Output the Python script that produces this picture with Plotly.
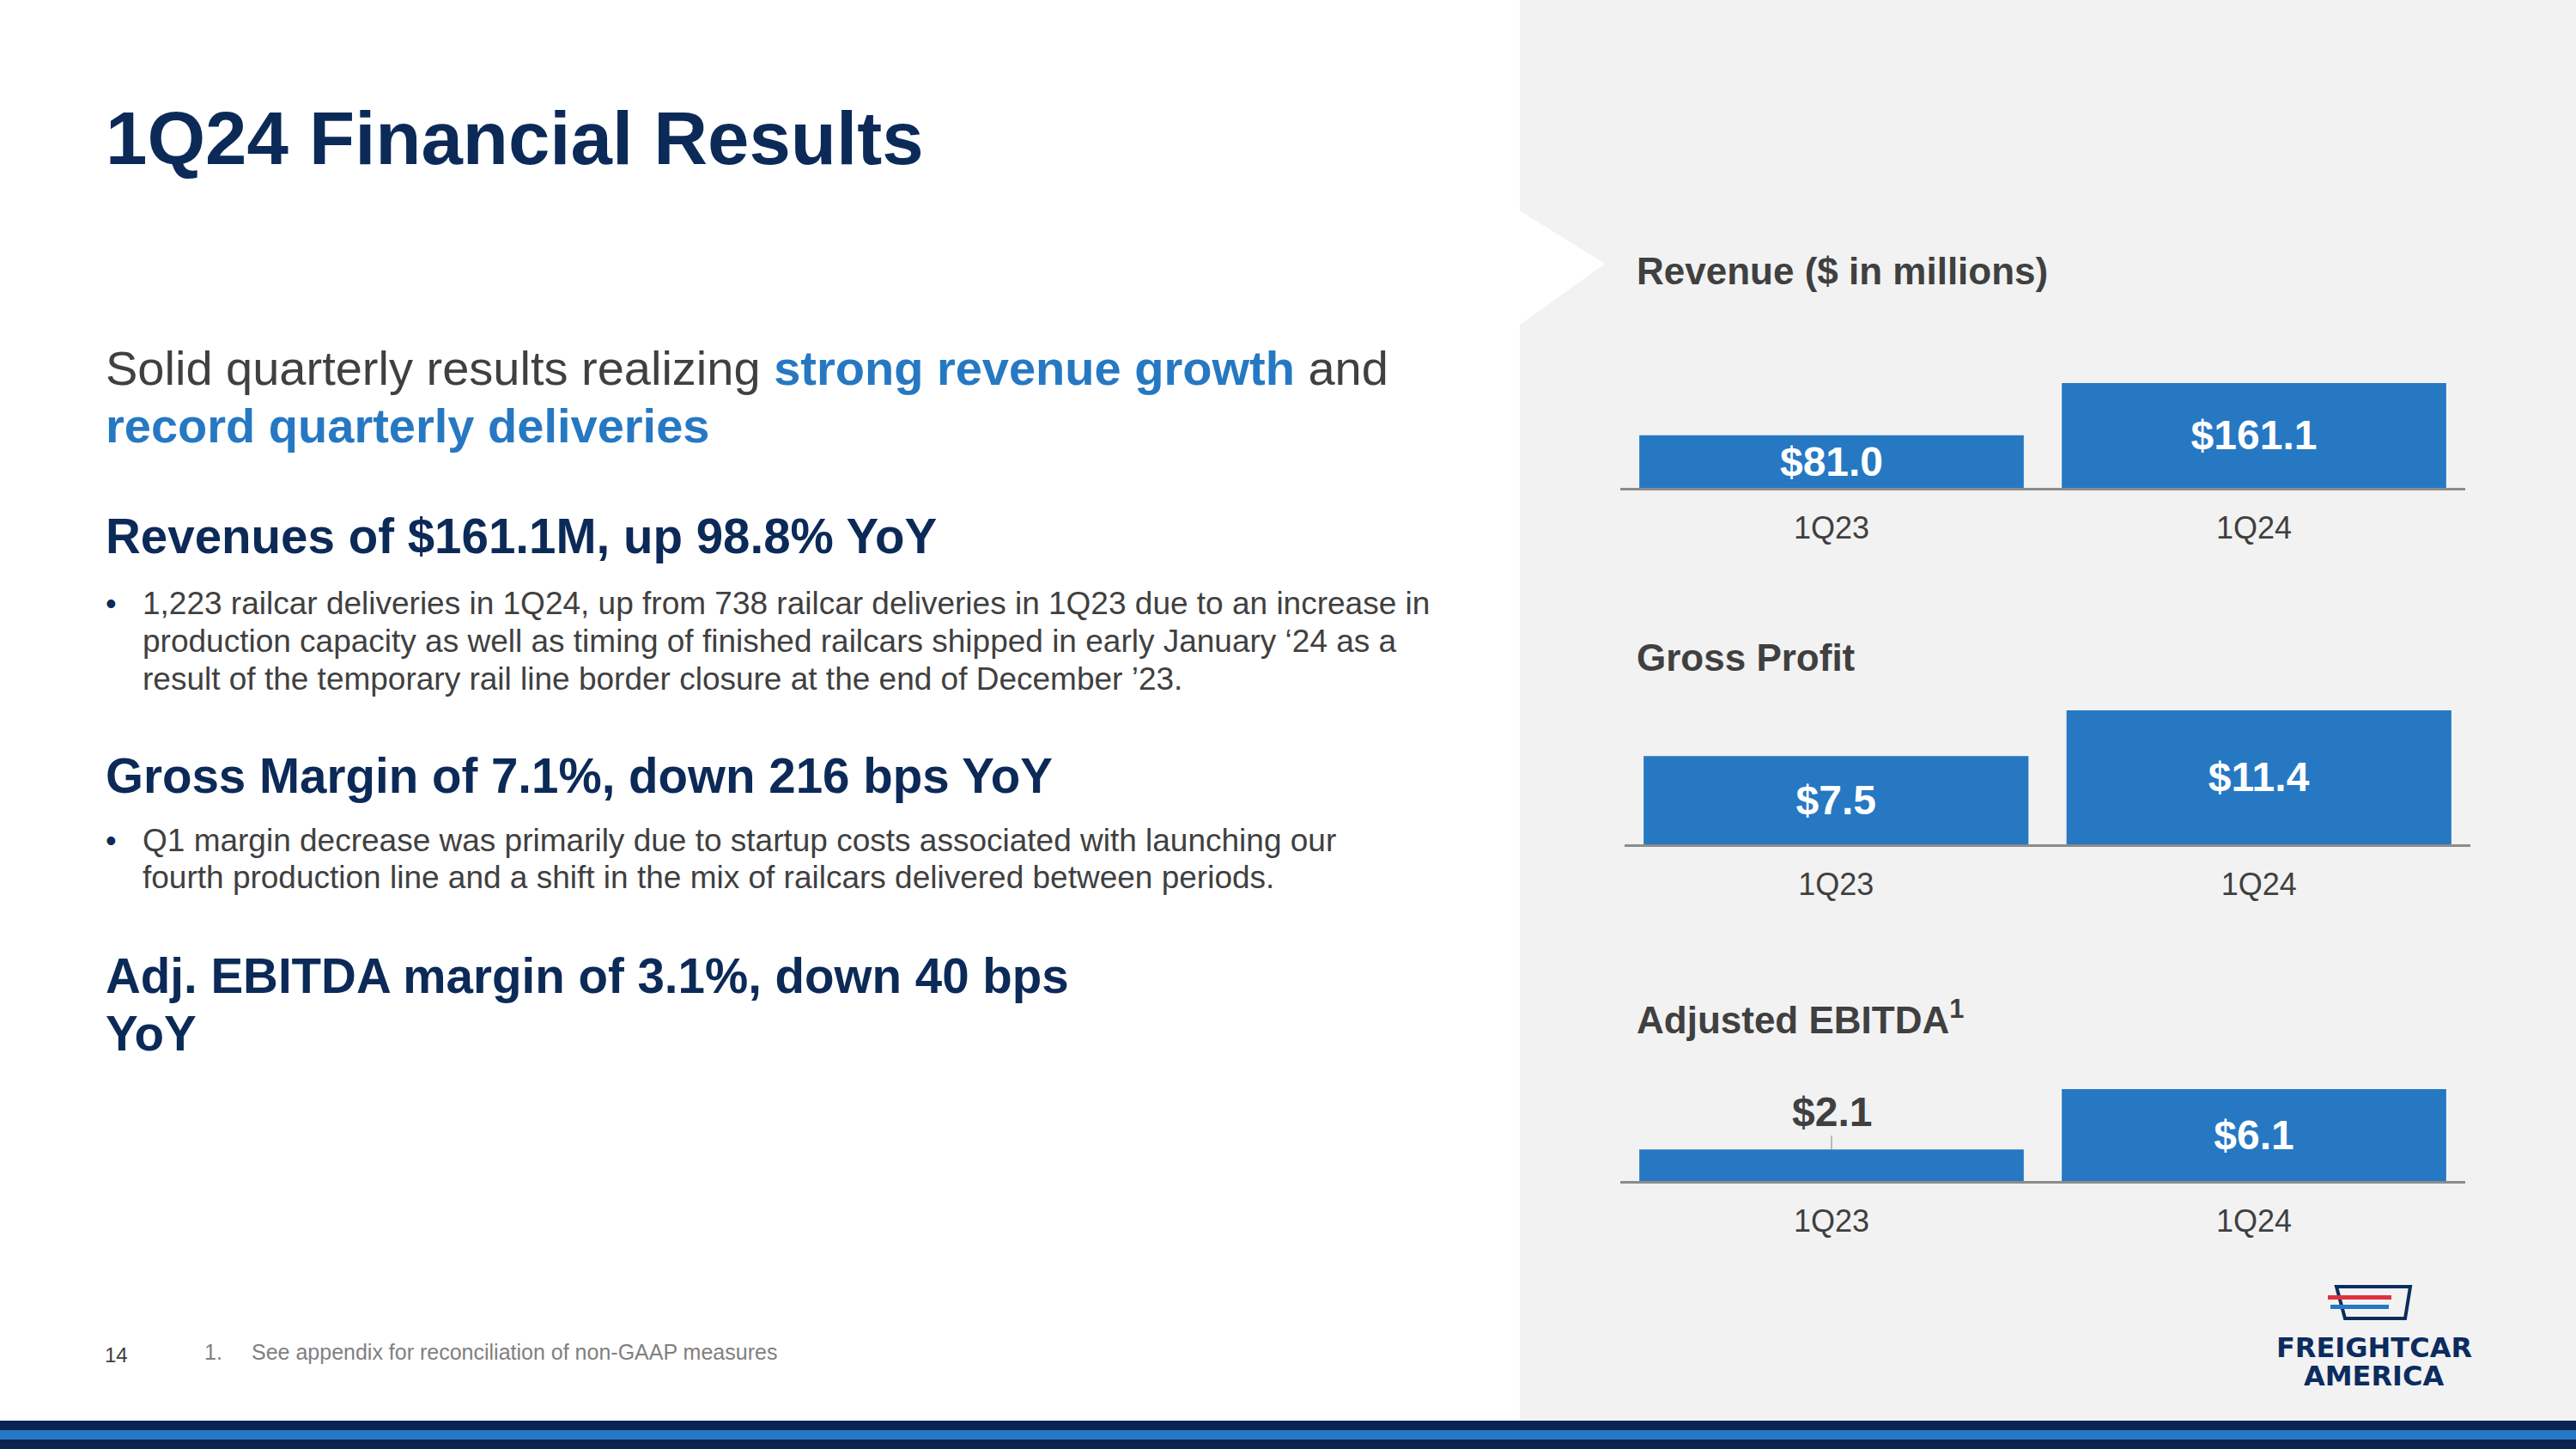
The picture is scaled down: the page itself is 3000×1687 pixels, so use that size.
import plotly.graph_objects as go

W, H = 3000, 1687

# ---------------- data ----------------
categories = ["1Q23", "1Q24"]
revenue = [81.0, 161.1]
gross_profit = [7.5, 11.4]
adj_ebitda = [2.1, 6.1]
chart_titles = ["Revenue ($ in millions)", "Gross Profit", "Adjusted EBITDA<sup>1</sup>"]

# ---------------- style ----------------
NAVY = "#0C2A58"
BLUE = "#2678C2"
GRAY = "#404040"
FONT = "Liberation Sans, Arial, sans-serif"


def px(x):
    return x / W


def py(y):
    return 1 - y / H


fig = go.Figure()

charts = [
    dict(vals=revenue, title=chart_titles[0], x0=1887, x1=2871, top=430, base=568, ymax=182.2, ty=315),
    dict(vals=gross_profit, title=chart_titles[1], x0=1892, x1=2877, top=800, base=983, ymax=13.37, ty=766),
    dict(vals=adj_ebitda, title=chart_titles[2], x0=1887, x1=2871, top=1240, base=1375, ymax=7.70, ty=1184),
]

annotations = []
layout_axes = {}
for i, c in enumerate(charts, start=1):
    xa = "x" if i == 1 else f"x{i}"
    ya = "y" if i == 1 else f"y{i}"
    templates = ["$%{y:.1f}", "$%{y:.1f}"] if i < 3 else ["", "$%{y:.1f}"]
    fig.add_trace(go.Bar(
        x=categories, y=c["vals"], xaxis=xa, yaxis=ya,
        marker=dict(color=BLUE, line=dict(width=0)),
        texttemplate=templates, textposition="inside",
        insidetextanchor="middle", constraintext="none",
        textfont=dict(family=FONT, size=48, color="white", weight="bold"),
        cliponaxis=False, hoverinfo="skip", showlegend=False,
    ))
    xkey = "xaxis" if i == 1 else f"xaxis{i}"
    ykey = "yaxis" if i == 1 else f"yaxis{i}"
    layout_axes[xkey] = dict(
        domain=[px(c["x0"]), px(c["x1"])], anchor=ya, type="category",
        showline=True, linecolor="#8C8C8C", linewidth=3, showgrid=False,
        zeroline=False, ticks="", ticklabelstandoff=13,
        tickfont=dict(family=FONT, size=36, color=GRAY), fixedrange=True,
    )
    layout_axes[ykey] = dict(
        domain=[py(c["base"]), py(c["top"])], anchor=xa,
        range=[0, c["ymax"]], visible=False, fixedrange=True,
    )
    annotations.append(dict(
        text=f"<b>{c['title']}</b>", x=px(1904), y=py(c["ty"]),
        xref="paper", yref="paper", xanchor="left", yanchor="middle",
        showarrow=False, font=dict(family=FONT, size=44, color=GRAY),
    ))

# outside label with leader line for small EBITDA bar
annotations.append(dict(
    text=f"<b>${adj_ebitda[0]:.1f}</b>", x=categories[0], y=adj_ebitda[0],
    xref="x3", yref="y3", showarrow=True, arrowhead=0, arrowwidth=1.5,
    arrowcolor="#A6A6A6", ax=0, ay=-44, standoff=0,
    font=dict(family=FONT, size=48, color=GRAY),
))

# ---------------- left-side text ----------------
def txt(text, x, y, size, color=GRAY, anchor="left"):
    annotations.append(dict(
        text=text, x=px(x), y=py(y), xref="paper", yref="paper",
        xanchor=anchor, yanchor="middle", showarrow=False,
        font=dict(family=FONT, size=size, color=color),
    ))

txt("<b>1Q24 Financial Results</b>", 121, 160, 87, NAVY)
txt(f"Solid quarterly results realizing <b><span style='color:{BLUE}'>strong revenue growth</span></b> and",
    121, 428, 56, GRAY)
txt("<b>record quarterly deliveries</b>", 121, 495, 56, BLUE)

txt("<b>Revenues of $161.1M, up 98.8% YoY</b>", 121, 624, 56.5, NAVY)
bullet1 = [
    "1,223 railcar deliveries in 1Q24, up from 738 railcar deliveries in 1Q23 due to an increase in",
    "production capacity as well as timing of finished railcars shipped in early January ‘24 as a",
    "result of the temporary rail line border closure at the end of December ’23.",
]
for k, line in enumerate(bullet1):
    txt(line, 164, 702 + 44 * k, 37, GRAY)
txt("•", 121, 702, 36, NAVY)

txt("<b>Gross Margin of 7.1%, down 216 bps YoY</b>", 121, 903, 56.5, NAVY)
bullet2 = [
    "Q1 margin decrease was primarily due to startup costs associated with launching our",
    "fourth production line and a shift in the mix of railcars delivered between periods.",
]
for k, line in enumerate(bullet2):
    txt(line, 164, 978 + 44 * k, 37, GRAY)
txt("•", 121, 978, 36, NAVY)

txt("<b>Adj. EBITDA margin of 3.1%, down 40 bps</b>", 121, 1136, 56.5, NAVY)
txt("<b>YoY</b>", 121, 1203, 56.5, NAVY)

# footer
txt("14", 120, 1577, 24, GRAY)
txt("1.", 236, 1574, 25, "#7F7F7F")
txt("See appendix for reconciliation of non-GAAP measures", 291, 1574, 25, "#7F7F7F")

# logo text
LOGO_NAVY = "#0B2C5E"
annotations.append(dict(text="<b>FREIGHTCAR</b>", x=px(2765), y=py(1569), xref="paper", yref="paper",
                        xanchor="center", yanchor="middle", showarrow=False,
                        font=dict(family="DejaVu Sans, sans-serif", size=32, color=LOGO_NAVY)))
annotations.append(dict(text="<b>AMERICA</b>", x=px(2765), y=py(1602), xref="paper", yref="paper",
                        xanchor="center", yanchor="middle", showarrow=False,
                        font=dict(family="DejaVu Sans, sans-serif", size=32, color=LOGO_NAVY)))

# ---------------- shapes ----------------
def rect(x0, y0, x1, y1, color, layer="below"):
    return dict(type="rect", xref="paper", yref="paper", x0=px(x0), x1=px(x1),
                y0=py(y1), y1=py(y0), fillcolor=color, line=dict(width=0), layer=layer)


def path(points, fill=None, line_color=None, lw=0, closed=True):
    d = "M " + " L ".join(f"{px(x):.5f},{py(y):.5f}" for x, y in points)
    if closed:
        d += " Z"
    return dict(type="path", xref="paper", yref="paper", path=d,
                fillcolor=fill if fill else "rgba(0,0,0,0)",
                line=dict(color=line_color if line_color else "rgba(0,0,0,0)", width=lw),
                layer="above")


shapes = [
    rect(1770, 0, 3000, 1654, "#F2F2F2"),
    dict(type="path", xref="paper", yref="paper",
         path=f"M {px(1769):.5f},{py(245):.5f} L {px(1869):.5f},{py(307):.5f} L {px(1769):.5f},{py(379):.5f} Z",
         fillcolor="white", line=dict(width=0), layer="below"),
    rect(0, 1654, 3000, 1665, "#0A2352", "above"),
    rect(0, 1665, 3000, 1676, BLUE, "above"),
    rect(0, 1676, 3000, 1687, "#0A2352", "above"),
    # logo icon
    path([(2721, 1498), (2807, 1498), (2801, 1535), (2731, 1535)], line_color=LOGO_NAVY, lw=4),
    rect(2711, 1508, 2785, 1513, "#E0313F", "above"),
    rect(2714, 1519, 2782, 1524, BLUE, "above"),
]

fig.update_layout(
    width=W, height=H, margin=dict(l=0, r=0, t=0, b=0),
    paper_bgcolor="white", plot_bgcolor="rgba(0,0,0,0)",
    bargap=0.09, showlegend=False,
    annotations=annotations, shapes=shapes,
    **layout_axes,
)

fig.write_html("out.html", config={"displayModeBar": False})
